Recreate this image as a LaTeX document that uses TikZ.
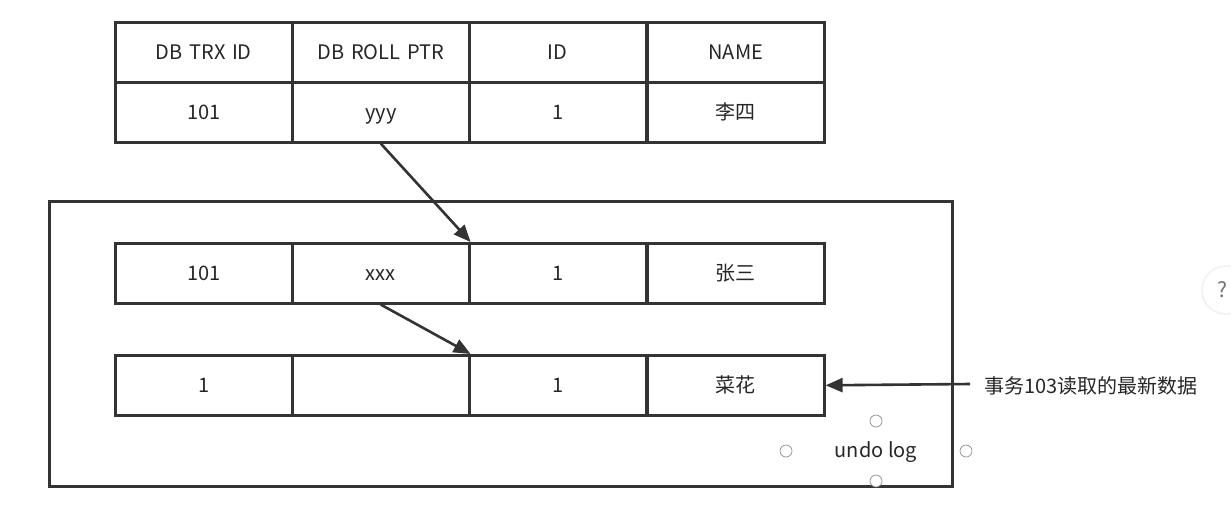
\documentclass[tikz,border=0pt]{standalone}
\usepackage{fontspec}
\setmainfont{Noto Sans CJK SC}
\usetikzlibrary{arrows.meta}
\begin{document}
\begin{tikzpicture}[x=1pt,y=-1pt,
  cell/.style={draw=black!80, line width=2.6pt, minimum width=177pt, minimum height=60pt, inner sep=0pt, anchor=north west, font=\fontsize{20}{24}\selectfont, text=black!85, text height=18pt, text depth=4pt},
  arr/.style={draw=black!80, line width=2.6pt, -{Triangle[length=17pt,width=14pt]}},
  handle/.style={circle, draw=black!45, fill=white, line width=0.7pt, minimum size=12pt, inner sep=0pt},
  lbl/.style={font=\fontsize{20}{24}\selectfont, text=black!85}
]
\useasboundingbox (0,0) rectangle (1231,517);
% outer undo log box
\node[draw=black!80, line width=2.6pt, minimum width=903pt, minimum height=285pt, anchor=north west, inner sep=0pt] (outer) at (48,200) {};
% top table
\node[cell] (h1) at (114,21) {DB\,\,TRX\,\,ID};
\node[cell] (h2) at (291,21) {DB\,\,ROLL\,\,PTR};
\node[cell] (h3) at (468,21) {ID};
\node[cell] (h4) at (646,21) {NAME};
\node[cell] (a1) at (114,81) {101};
\node[cell] (a2) at (291,81) {yyy};
\node[cell] (a3) at (468,81) {1};
\node[cell] (a4) at (646,81) {李四};
% undo row 1
\node[cell] (b1) at (114,242) {101};
\node[cell] (b2) at (291,242) {xxx};
\node[cell] (b3) at (468,242) {1};
\node[cell] (b4) at (646,242) {张三};
% undo row 2
\node[cell] (c1) at (114,354) {1};
\node[cell] (c2) at (291,354) {};
\node[cell] (c3) at (468,354) {1};
\node[cell] (c4) at (646,354) {菜花};
% arrows
\draw[arr] (a2.south) -- (b2.north east);
\draw[arr] (b2.south) -- (c2.north east);
\node[lbl, anchor=west, inner sep=0pt] (note) at (984,386) {事务103读取的最新数据};
\coordinate (noteL) at (970,384);
\draw[arr] (noteL) -- (c4.east);
% undo log label with handles
\node[lbl] (ul) at (876,452) {undo log};
\node[handle] (hn) at (876,421) {};
\node[handle] (hw) at (786,451) {};
\node[handle] (he) at (966,451) {};
\node[handle] (hs) at (876,481) {};
% help button
\node[circle, fill=black!5, minimum size=50pt, inner sep=0pt] (help) at (1226,290) {};
\node[circle, fill=white, minimum size=46pt, inner sep=0pt, text=black!55] (helpq) at (1226,290) {};
\node[font=\fontsize{21}{24}\selectfont, text=black!55, inner sep=0pt] (qm) at (1222,290) {?};
\end{tikzpicture}
\end{document}
